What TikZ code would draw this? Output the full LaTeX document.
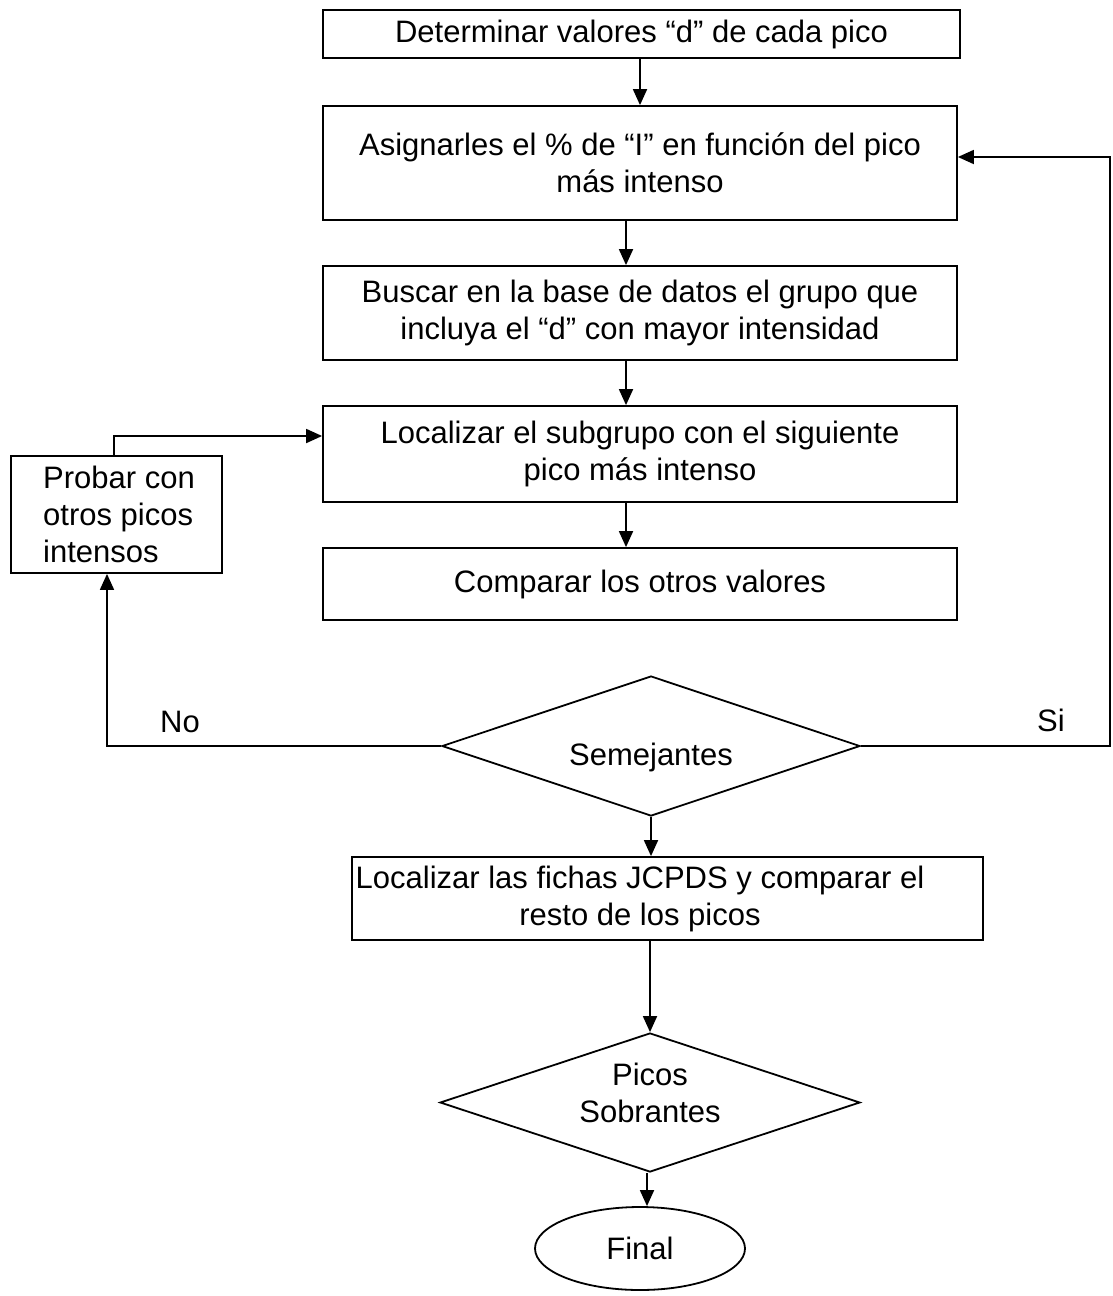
\documentclass[tikz,border=0pt]{standalone}
\usepackage{fontspec}
\setmainfont{Liberation Sans}
\usetikzlibrary{arrows.meta,calc,positioning,shapes.geometric}

\begin{document}
\begin{tikzpicture}[x=0.5pt,y=-0.5pt,
  line width=0.9pt,
  font=\fontsize{15.5}{18.5}\selectfont,
  arr/.style={-{Triangle[length=8pt,width=7pt]}},
  caja/.style={draw,rectangle,align=center,inner sep=0pt},
  rombo/.style={draw,diamond,inner sep=0pt},
  fin/.style={draw,ellipse,inner sep=0pt}]
\useasboundingbox (0,0) rectangle (1113,1296);

\node[caja, minimum width=318.5pt, minimum height=24pt] (det) at (641.5,34) {Determinar valores “d” de cada pico};
\node[caja, minimum width=317pt, minimum height=57pt] (asig) at (640,163) {Asignarles el \% de “I” en función del pico\\ más intenso};
\node[caja, minimum width=317pt, minimum height=47pt] (busc) at (640,313) {Buscar en la base de datos el grupo que\\ incluya el “d” con mayor intensidad};
\node[caja, minimum width=317pt, minimum height=48pt] (loc) at (640,454) {Localizar el subgrupo con el siguiente\\ pico más intenso};
\node[caja, minimum width=317pt, minimum height=36pt] (comp) at (640,584) {Comparar los otros valores};
\node[caja, minimum width=105.5pt, minimum height=58.5pt] (prob) at (116.5,514.5) {};
\node[align=left] at (119,514.5) {Probar con\\ otros picos\\ intensos};

\node[rombo, minimum width=209pt, minimum height=70pt] (sem) at (651,746) {};
\node[] at (651,757) {Semejantes};

\node[caja, minimum width=315.5pt, minimum height=41.5pt] (fich) at (667.5,898.5) {};
\node[align=center] at (640,898.5) {Localizar las fichas JCPDS y comparar el\\ resto de los picos};

\node[rombo, minimum width=210pt, minimum height=69.5pt] (sobr) at (650,1102.5) {};
\node[align=center] at (650,1093) {Picos\\ Sobrantes};

\node[fin, minimum width=105pt, minimum height=41.5pt] (final) at (640,1248.5) {Final};

\coordinate (col) at (626,0);
\coordinate (der) at (1110,0);
\coordinate (izq) at (107,0);

\draw[arr] (det.south -| asig.north) -- (asig.north);
\draw[arr] (asig.south -| col) -- (busc.north -| col);
\draw[arr] (busc.south -| col) -- (loc.north -| col);
\draw[arr] (loc.south -| col) -- (comp.north -| col);

\draw[arr] ($(prob.north)+(-2.5,0)$) |- ($(loc.west)+(0,-18)$);
\draw[arr] (sem.west) -| (prob.south -| izq);
\draw[arr] (sem.east) -- (sem.east -| der) |- ($(asig.east)+(0,-6)$);

\draw[arr] (sem.south) -- (sem.south |- fich.north);
\draw[arr] (fich.south -| sobr.north) -- (sobr.north);
\draw[arr] ($(sobr.south)+(-3,0)$) -- ($(sobr.south |- final.north)+(-3,0)$);

\node[] at (180,722) {No};
\node[] at (1051,720) {Si};
\end{tikzpicture}
\end{document}
